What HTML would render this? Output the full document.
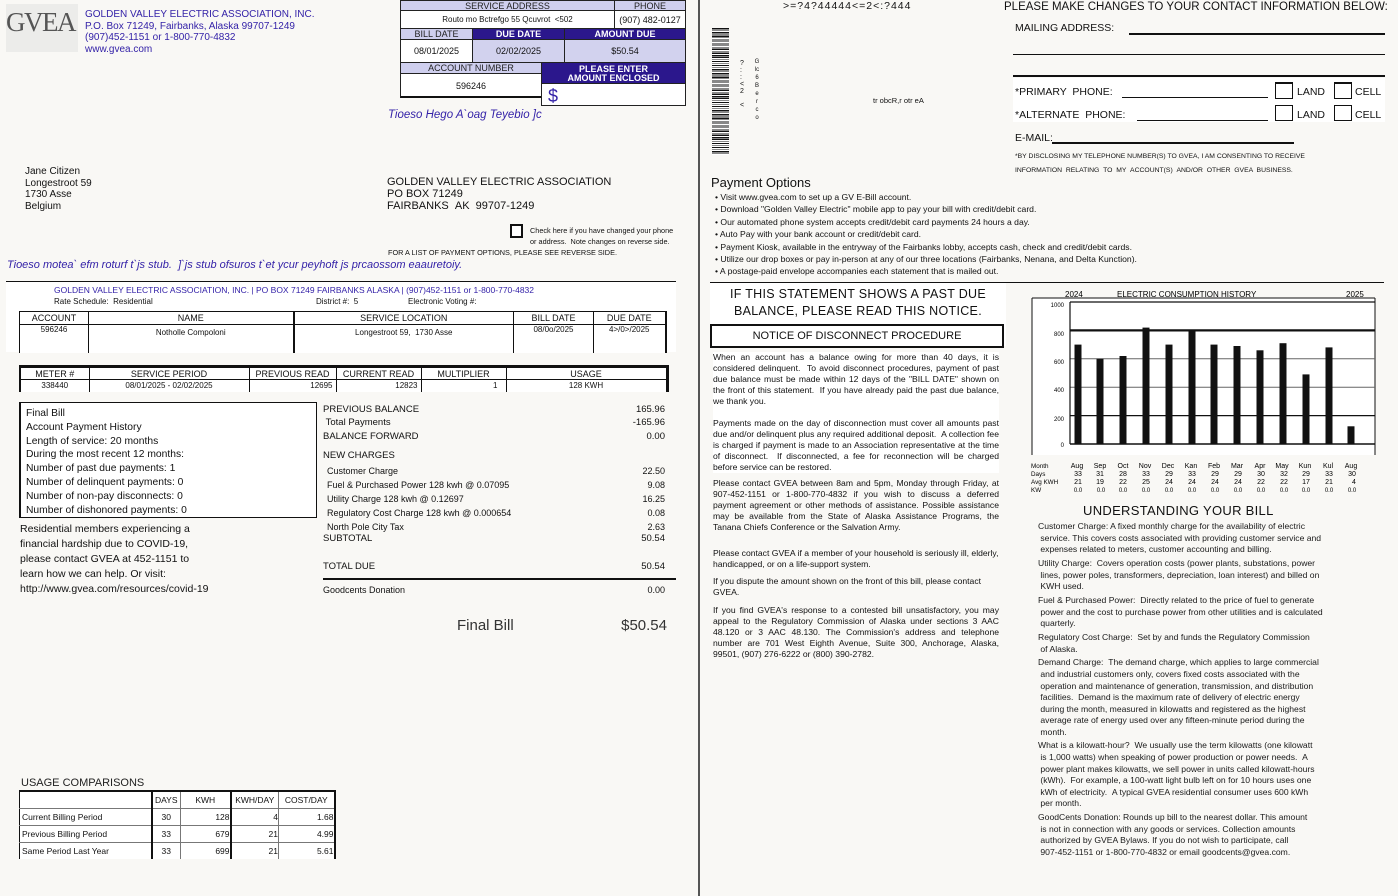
<!DOCTYPE html>
<html><head><meta charset="utf-8"><style>
*{margin:0;padding:0;box-sizing:border-box}
body{width:1398px;height:896px;background:#f9f8f5;position:relative;overflow:hidden;font-family:"Liberation Sans",Arial,sans-serif;color:#111}
.a{position:absolute;white-space:nowrap}
.b{color:#3422a8}
.hd{position:absolute;background:#cfcfee;color:#222;font-size:9px;text-align:center;line-height:11px;border:1px solid #222}
.hp{position:absolute;background:#2b178c;color:#fff;font-size:9px;font-weight:bold;text-align:center;border:1px solid #222}
.cl{position:absolute;background:#fff;border:1px solid #222;font-size:9px;text-align:center}
table{border-collapse:collapse;table-layout:fixed}
.p{font-size:8.6px;line-height:11px;text-align:justify;white-space:normal}
</style></head><body>
<div class="a" style="left:698px;top:0;width:2px;height:896px;background:#555"></div>

<div class="a" style="left:6px;top:4px;width:72px;height:48px;background:#ececea;color:#555;font-family:'Liberation Serif',serif;font-size:27px;line-height:36px;letter-spacing:-1.5px;overflow:hidden">GVEA</div>
<div class="a b" style="left:85px;top:9px;font-size:10px;line-height:11.5px">GOLDEN VALLEY ELECTRIC ASSOCIATION, INC.<br>P.O. Box 71249, Fairbanks, Alaska 99707-1249<br>(907)452-1151 or 1-800-770-4832<br>www.gvea.com</div>

<div class="hd" style="left:400px;top:0;width:215px;height:11px">SERVICE ADDRESS</div>
<div class="hd" style="left:614px;top:0;width:72px;height:11px">PHONE</div>
<div class="cl" style="left:400px;top:10px;width:215px;height:19px;line-height:18px;font-size:8px">Routo mo Bctrefgo 55 Qcuvrot &nbsp;&lt;502</div>
<div class="cl" style="left:614px;top:10px;width:72px;height:19px;line-height:18px">(907) 482-0127</div>
<div class="hd" style="left:400px;top:28px;width:73px;height:12px">BILL DATE</div>
<div class="hp" style="left:472px;top:28px;width:93px;height:12px;line-height:11px">DUE DATE</div>
<div class="hp" style="left:564px;top:28px;width:122px;height:12px;line-height:11px">AMOUNT DUE</div>
<div class="cl" style="left:400px;top:39px;width:73px;height:24px;line-height:23px">08/01/2025</div>
<div class="cl" style="left:472px;top:39px;width:93px;height:24px;line-height:23px;background:#d2d2ee">02/02/2025</div>
<div class="cl" style="left:564px;top:39px;width:122px;height:24px;line-height:23px;background:#d2d2ee">$50.54</div>
<div class="hd" style="left:400px;top:62px;width:142px;height:12px">ACCOUNT NUMBER</div>
<div class="hp" style="left:541px;top:62px;width:145px;height:22px;line-height:9px;padding-top:2px">PLEASE ENTER<br>AMOUNT ENCLOSED</div>
<div class="cl" style="left:400px;top:73px;width:142px;height:25px;line-height:24px;border-bottom:2px solid #111">596246</div>
<div class="cl" style="left:541px;top:83px;width:145px;height:23px;text-align:left;padding-left:6px;font-size:18px;line-height:24px;color:#3422a8">$</div>
<div class="a b" style="left:388px;top:109px;font-size:11.5px;font-style:italic">Tioeso Hego A`oag Teyebio ]c</div>

<div class="a" style="left:25px;top:166px;font-size:10px;line-height:11.7px">Jane Citizen<br>Longestroot 59<br>1730 Asse<br>Belgium</div>
<div class="a" style="left:387px;top:177px;font-size:11px;line-height:11.8px">GOLDEN VALLEY ELECTRIC ASSOCIATION<br>PO BOX 71249<br>FAIRBANKS &nbsp;AK &nbsp;99707-1249</div>
<div class="a" style="left:510px;top:224px;width:13px;height:14px;border:2px solid #111;background:#fff"></div>
<div class="a" style="left:530px;top:226px;font-size:7.3px;line-height:10.5px">Check here if you have changed your phone<br>or address. &nbsp;Note changes on reverse side.</div>
<div class="a" style="left:388px;top:248px;font-size:7.3px">FOR A LIST OF PAYMENT OPTIONS, PLEASE SEE REVERSE SIDE.</div>
<div class="a b" style="left:7px;top:259px;font-size:11px;font-style:italic">Tioeso motea` efm roturf t`js stub. &nbsp;]`js stub ofsuros t`et ycur peyhoft js prcaossom eaauretoiy.</div>

<div class="a" style="left:6px;top:281px;width:670px;height:71px;background:#fff;border-top:1px solid #111"></div>
<div class="a b" style="left:54px;top:285px;font-size:8.5px">GOLDEN VALLEY ELECTRIC ASSOCIATION, INC. | PO BOX 71249 FAIRBANKS ALASKA | (907)452-1151 or 1-800-770-4832</div>
<div class="a" style="left:54px;top:297px;font-size:8px">Rate Schedule: &nbsp;Residential</div>
<div class="a" style="left:316px;top:297px;font-size:8px">District #: &nbsp;5</div>
<div class="a" style="left:408px;top:297px;font-size:8px">Electronic Voting #:</div>
<table class="a" style="left:19px;top:311px;width:646px;font-size:9px;background:#fff">
<colgroup><col style="width:69px"><col style="width:205px"><col style="width:220px"><col style="width:80px"><col style="width:72px"></colgroup>
<tr style="height:13px;text-align:center"><td style="border:1px solid #111">ACCOUNT</td><td style="border:1px solid #111">NAME</td><td style="border:1px solid #111;border-left:2px solid #111">SERVICE LOCATION</td><td style="border:1px solid #111">BILL DATE</td><td style="border:1px solid #111;border-right:2px solid #111">DUE DATE</td></tr>
<tr style="height:28px;text-align:center;vertical-align:top;font-size:8px"><td style="border-left:1px solid #111;border-right:1px solid #111">596246</td><td style="border-right:1px solid #111;padding-top:3px">Notholle Compoloni</td><td style="border-left:2px solid #111;border-right:1px solid #111;padding-top:3px">Longestroot 59, &nbsp;1730 Asse</td><td style="border-right:1px solid #111">08/0o/2025</td><td style="border-right:2px solid #111">4&gt;/0&gt;/2025</td></tr></table>

<table class="a" style="left:19px;top:365px;width:647px;font-size:9px;background:#fff;border-top:3px solid #111">
<colgroup><col style="width:69px"><col style="width:160px"><col style="width:87px"><col style="width:85px"><col style="width:85px"><col style="width:161px"></colgroup>
<tr style="height:13px;text-align:center"><td style="border:1px solid #111;border-left:2px solid #111">METER #</td><td style="border:1px solid #111">SERVICE PERIOD</td><td style="border:1px solid #111">PREVIOUS READ</td><td style="border:1px solid #111">CURRENT READ</td><td style="border:1px solid #111">MULTIPLIER</td><td style="border:1px solid #111;border-right:3px solid #111">USAGE</td></tr>
<tr style="height:12px;font-size:8px"><td style="border-left:2px solid #111;border-right:1px solid #111;text-align:center">338440</td><td style="border-right:1px solid #111;text-align:center">08/01/2025 - 02/02/2025</td><td style="border-right:1px solid #111;text-align:right;padding-right:3px">12695</td><td style="border-right:1px solid #111;text-align:right;padding-right:3px">12823</td><td style="border-right:1px solid #111;text-align:right;padding-right:8px">1</td><td style="border-right:3px solid #111;text-align:center">128 KWH</td></tr></table>

<div class="a" style="left:19px;top:402px;width:298px;height:116px;background:#fff;border:1px solid #111;border-left:2px solid #111;padding:4px 0 0 5px;font-size:10.3px;line-height:13.8px">Final Bill<br>Account Payment History<br>Length of service: 20 months<br>During the most recent 12 months:<br>Number of past due payments: 1<br>Number of delinquent payments: 0<br>Number of non-pay disconnects: 0<br>Number of dishonored payments: 0</div>
<div class="a" style="left:20px;top:522px;font-size:10.5px;line-height:15px">Residential members experiencing a<br>financial hardship due to COVID-19,<br>please contact GVEA at 452-1151 to<br>learn how we can help. Or visit:<br>http://www.gvea.com/resources/covid-19</div>

<div class="a" style="left:323px;top:403px;font-size:9.5px;line-height:13.4px">PREVIOUS BALANCE<br>&nbsp;Total Payments<br>BALANCE FORWARD</div>
<div class="a" style="left:323px;top:450px;font-size:9.5px">NEW CHARGES</div>
<div class="a" style="left:327px;top:465px;font-size:9px;line-height:13.9px">Customer Charge<br>Fuel &amp; Purchased Power 128 kwh @ 0.07095<br>Utility Charge 128 kwh @ 0.12697<br>Regulatory Cost Charge 128 kwh @ 0.000654<br>North Pole City Tax</div>
<div class="a" style="left:323px;top:533px;font-size:9.5px">SUBTOTAL</div>
<div class="a" style="left:323px;top:561px;font-size:9.5px">TOTAL DUE</div>
<div class="a" style="left:323px;top:578px;width:353px;height:2px;background:#111"></div>
<div class="a" style="left:323px;top:585px;font-size:9px">Goodcents Donation</div>
<div class="a" style="left:600px;top:403px;width:65px;text-align:right;font-size:9.5px;line-height:13.4px">165.96<br>-165.96<br>0.00</div>
<div class="a" style="left:600px;top:465px;width:65px;text-align:right;font-size:9px;line-height:13.9px">22.50<br>9.08<br>16.25<br>0.08<br>2.63</div>
<div class="a" style="left:600px;top:533px;width:65px;text-align:right;font-size:9.5px">50.54</div>
<div class="a" style="left:600px;top:561px;width:65px;text-align:right;font-size:9.5px">50.54</div>
<div class="a" style="left:600px;top:585px;width:65px;text-align:right;font-size:9px">0.00</div>
<div class="a" style="left:457px;top:617px;font-size:15px;color:#333">Final Bill</div>
<div class="a" style="left:600px;top:617px;width:67px;text-align:right;font-size:15px;color:#333">$50.54</div>

<div class="a" style="left:21px;top:777px;font-size:11px;color:#222">USAGE COMPARISONS</div>
<table class="a" style="left:19px;top:790px;width:315px;font-size:8.5px;background:#fff;border-top:2px solid #111">
<colgroup><col style="width:132px"><col style="width:29px"><col style="width:50px"><col style="width:48px"><col style="width:56px"></colgroup>
<tr style="height:17px"><td style="border-left:1px solid #111;border-bottom:1px solid #777"></td><td style="border-left:2px solid #111;border-bottom:1px solid #777;text-align:center">DAYS</td><td style="border-left:1px solid #777;border-bottom:1px solid #777;text-align:center">KWH</td><td style="border-left:2px solid #111;border-bottom:1px solid #777;text-align:center">KWH/DAY</td><td style="border-left:1px solid #777;border-right:2px solid #111;border-bottom:1px solid #777;text-align:center">COST/DAY</td></tr>
<tr style="height:17px"><td style="border-left:1px solid #111;border-bottom:1px solid #777;padding-left:2px">Current Billing Period</td><td style="border-left:2px solid #111;border-bottom:1px solid #777;text-align:center">30</td><td style="border-left:1px solid #777;border-bottom:1px solid #777;text-align:right">128</td><td style="border-left:2px solid #111;border-bottom:1px solid #777;text-align:right">4</td><td style="border-left:1px solid #777;border-right:2px solid #111;border-bottom:1px solid #777;text-align:right">1.68</td></tr>
<tr style="height:17px"><td style="border-left:1px solid #111;border-bottom:1px solid #777;padding-left:2px">Previous Billing Period</td><td style="border-left:2px solid #111;border-bottom:1px solid #777;text-align:center">33</td><td style="border-left:1px solid #777;border-bottom:1px solid #777;text-align:right">679</td><td style="border-left:2px solid #111;border-bottom:1px solid #777;text-align:right">21</td><td style="border-left:1px solid #777;border-right:2px solid #111;border-bottom:1px solid #777;text-align:right">4.99</td></tr>
<tr style="height:17px"><td style="border-left:1px solid #111;padding-left:2px">Same Period Last Year</td><td style="border-left:2px solid #111;text-align:center">33</td><td style="border-left:1px solid #777;text-align:right">699</td><td style="border-left:2px solid #111;text-align:right">21</td><td style="border-left:1px solid #777;border-right:2px solid #111;text-align:right">5.61</td></tr></table>

<div class="a" style="left:783px;top:0;font-size:10.5px;letter-spacing:1px">&gt;=?4?44444&lt;=2&lt;:?444</div>
<div class="a" style="left:712px;top:28px;width:17px;height:127px;background:repeating-linear-gradient(#111 0 1.3px,#fff 1.3px 2.6px,#111 2.6px 3.2px,#fff 3.2px 4.1px)"></div>
<div class="a" style="left:740px;top:60px;font-size:7px;line-height:7px;width:8px">?<br>:<br>:<br>&lt;<br>2<br><br>&lt;</div>
<div class="a" style="left:753px;top:58px;font-size:6px;line-height:8px;width:8px;text-align:center">G<br>lc<br>6<br>B<br>e<br>r<br>c<br>o</div>
<div class="a" style="left:873px;top:96px;font-size:7.5px">tr obcR,r otr eA</div>

<div class="a" style="left:1004px;top:1px;font-size:11.5px">PLEASE MAKE CHANGES TO YOUR CONTACT INFORMATION BELOW:</div>
<div class="a" style="left:1015px;top:22px;font-size:10.5px">MAILING ADDRESS:</div>
<div class="a" style="left:1129px;top:33px;width:256px;height:2px;background:#111"></div>
<div class="a" style="left:1013px;top:54px;width:372px;height:1px;background:#111"></div>
<div class="a" style="left:1013px;top:75px;width:372px;height:2px;background:#111"></div>
<div class="a" style="left:1013px;top:78px;width:372px;height:44px;background:#fff"></div>
<div class="a" style="left:1015px;top:86px;font-size:10.5px">*PRIMARY &nbsp;PHONE:</div>
<div class="a" style="left:1122px;top:97px;width:146px;height:1px;background:#111"></div>
<div class="a" style="left:1015px;top:109px;font-size:10.5px">*ALTERNATE &nbsp;PHONE:</div>
<div class="a" style="left:1137px;top:120px;width:131px;height:1px;background:#111"></div>
<div class="a" style="left:1275px;top:82px;width:18px;height:17px;border:1px solid #111;border-top-width:2px"></div>
<div class="a" style="left:1297px;top:86px;font-size:10.5px">LAND</div>
<div class="a" style="left:1334px;top:82px;width:18px;height:17px;border:1px solid #111;border-top-width:2px"></div>
<div class="a" style="left:1355px;top:86px;font-size:10.5px">CELL</div>
<div class="a" style="left:1275px;top:105px;width:18px;height:16px;border:1px solid #111"></div>
<div class="a" style="left:1297px;top:109px;font-size:10.5px">LAND</div>
<div class="a" style="left:1334px;top:105px;width:18px;height:16px;border:1px solid #111"></div>
<div class="a" style="left:1355px;top:109px;font-size:10.5px">CELL</div>
<div class="a" style="left:1015px;top:132px;font-size:10.5px">E-MAIL:</div>
<div class="a" style="left:1052px;top:142px;width:242px;height:2px;background:#111"></div>
<div class="a" style="left:1015px;top:150px;font-size:6.8px;line-height:13.5px">*BY DISCLOSING MY TELEPHONE NUMBER(S) TO GVEA, I AM CONSENTING TO RECEIVE<br>INFORMATION &nbsp;RELATING &nbsp;TO &nbsp;MY &nbsp;ACCOUNT(S) &nbsp;AND/OR &nbsp;OTHER &nbsp;GVEA &nbsp;BUSINESS.</div>

<div class="a" style="left:711px;top:175px;font-size:13px">Payment Options</div>
<div class="a" style="left:715px;top:191px;font-size:8.6px;line-height:12.4px">• Visit www.gvea.com to set up a GV E-Bill account.<br>• Download "Golden Valley Electric" mobile app to pay your bill with credit/debit card.<br>• Our automated phone system accepts credit/debit card payments 24 hours a day.<br>• Auto Pay with your bank account or credit/debit card.<br>• Payment Kiosk, available in the entryway of the Fairbanks lobby, accepts cash, check and credit/debit cards.<br>• Utilize our drop boxes or pay in-person at any of our three locations (Fairbanks, Nenana, and Delta Kunction).<br>• A postage-paid envelope accompanies each statement that is mailed out.</div>
<div class="a" style="left:710px;top:282px;width:674px;height:1px;background:#111"></div>

<div class="a" style="left:710px;top:283px;width:296px;height:63px;background:#fff"></div>
<div class="a" style="left:710px;top:286px;width:296px;text-align:center;font-size:12.5px;line-height:17px;letter-spacing:.3px">IF THIS STATEMENT SHOWS A PAST DUE<br>BALANCE, PLEASE READ THIS NOTICE.</div>
<div class="a" style="left:710px;top:324px;width:294px;height:24px;border:2px solid #111;text-align:center;font-size:11px;line-height:20px">NOTICE OF DISCONNECT PROCEDURE</div>
<div class="a p" style="left:713px;top:352px;width:286px;background:#fff">When an account has a balance owing for more than 40 days, it is considered delinquent. &nbsp;To avoid disconnect procedures, payment of past due balance must be made within 12 days of the "BILL DATE" shown on the front of this statement. &nbsp;If you have already paid the past due balance, we thank you.<br><br>Payments made on the day of disconnection must cover all amounts past due and/or delinquent plus any required additional deposit. &nbsp;A collection fee is charged if payment is made to an Association representative at the time of disconnect. &nbsp;If disconnected, a fee for reconnection will be charged before service can be restored.</div>
<div class="a p" style="left:713px;top:478px;width:286px">Please contact GVEA between 8am and 5pm, Monday through Friday, at 907-452-1151 or 1-800-770-4832 if you wish to discuss a deferred payment agreement or other methods of assistance. Possible assistance may be available from the State of Alaska Assistance Programs, the Tanana Chiefs Conference or the Salvation Army.</div>
<div class="a p" style="left:713px;top:548px;width:286px;text-align:left">Please contact GVEA if a member of your household is seriously ill, elderly, handicapped, or on a life-support system.</div>
<div class="a p" style="left:713px;top:576px;width:286px;text-align:left">If you dispute the amount shown on the front of this bill, please contact GVEA.</div>
<div class="a p" style="left:713px;top:605px;width:286px">If you find GVEA's response to a contested bill unsatisfactory, you may appeal to the Regulatory Commission of Alaska under sections 3 AAC 48.120 or 3 AAC 48.130. The Commission's address and telephone number are 701 West Eighth Avenue, Suite 300, Anchorage, Alaska, 99501, (907) 276-6222 or (800) 390-2782.</div>

<svg class="a" style="left:1020px;top:285px" width="378" height="215" font-family="Liberation Sans,sans-serif">
<rect x="12" y="13" width="343" height="157" fill="#fff"/>
<line x1="12" y1="13" x2="12" y2="170" stroke="#111"/>
<line x1="355" y1="13" x2="355" y2="170" stroke="#111"/>
<line x1="12" y1="13" x2="355" y2="13" stroke="#111"/>
<text x="45" y="12" font-size="8">2024</text>
<text x="97" y="12" font-size="8">ELECTRIC CONSUMPTION HISTORY</text>
<text x="326" y="12" font-size="8">2025</text>
<g stroke="#111">
<line x1="50" y1="17" x2="355" y2="17" stroke-width="1.3"/>
<line x1="50" y1="45.4" x2="355" y2="45.4" stroke-width="2.2"/>
<line x1="50" y1="73.8" x2="355" y2="73.8" stroke="#666"/>
<line x1="50" y1="102.2" x2="355" y2="102.2" stroke="#666"/>
<line x1="50" y1="130.6" x2="355" y2="130.6" stroke-width="1.2"/>
<line x1="50" y1="159" x2="355" y2="159" stroke-width="1.5"/>
<line x1="50" y1="17" x2="50" y2="159" stroke-width="1.2"/>
</g>
<g font-size="6" text-anchor="end">
<text x="44" y="22">1000</text><text x="44" y="51">800</text><text x="44" y="79">600</text><text x="44" y="107">400</text><text x="44" y="136">200</text><text x="44" y="162">0</text></g>
<g fill="#111">
<rect x="54.5" y="59.6" width="7" height="99.4"/>
<rect x="76.5" y="73.8" width="7" height="85.2"/>
<rect x="99.5" y="71" width="7" height="88"/>
<rect x="122.5" y="42.6" width="7" height="116.4"/>
<rect x="145.5" y="59.6" width="7" height="99.4"/>
<rect x="168.5" y="45.4" width="7" height="113.6"/>
<rect x="190.5" y="59.6" width="7" height="99.4"/>
<rect x="213.5" y="61" width="7" height="98"/>
<rect x="236.5" y="65.3" width="7" height="93.7"/>
<rect x="259.5" y="58.2" width="7" height="100.8"/>
<rect x="282.5" y="89.4" width="7" height="69.6"/>
<rect x="305.5" y="62.4" width="7" height="96.6"/>
<rect x="327.5" y="141.3" width="7" height="17.7"/>
</g>
<g font-size="6.3">
<text x="11" y="183">Month</text><text x="11" y="191">Days</text><text x="11" y="199">Avg KWH</text><text x="11" y="207">KW</text>
</g>
<g font-size="7" text-anchor="middle">
<text y="183"><tspan x="57">Aug</tspan><tspan x="80">Sep</tspan><tspan x="103">Oct</tspan><tspan x="125">Nov</tspan><tspan x="148">Dec</tspan><tspan x="171">Kan</tspan><tspan x="194">Feb</tspan><tspan x="217">Mar</tspan><tspan x="240">Apr</tspan><tspan x="262">May</tspan><tspan x="285">Kun</tspan><tspan x="308">Kul</tspan><tspan x="331">Aug</tspan></text>
<text y="191"><tspan x="58">33</tspan><tspan x="80">31</tspan><tspan x="103">28</tspan><tspan x="126">33</tspan><tspan x="149">29</tspan><tspan x="172">33</tspan><tspan x="195">29</tspan><tspan x="218">29</tspan><tspan x="241">30</tspan><tspan x="264">32</tspan><tspan x="286">29</tspan><tspan x="309">33</tspan><tspan x="332">30</tspan></text>
<text y="199"><tspan x="58">21</tspan><tspan x="80">19</tspan><tspan x="103">22</tspan><tspan x="126">25</tspan><tspan x="149">24</tspan><tspan x="172">24</tspan><tspan x="195">24</tspan><tspan x="218">24</tspan><tspan x="241">22</tspan><tspan x="264">22</tspan><tspan x="286">17</tspan><tspan x="309">21</tspan><tspan x="334">4</tspan></text>
<text y="207" font-size="6"><tspan x="58">0.0</tspan><tspan x="81">0.0</tspan><tspan x="103">0.0</tspan><tspan x="126">0.0</tspan><tspan x="149">0.0</tspan><tspan x="172">0.0</tspan><tspan x="195">0.0</tspan><tspan x="218">0.0</tspan><tspan x="241">0.0</tspan><tspan x="264">0.0</tspan><tspan x="286">0.0</tspan><tspan x="309">0.0</tspan><tspan x="332">0.0</tspan></text>
</g>
</svg>

<div class="a" style="left:1083px;top:503px;font-size:13px;letter-spacing:.3px">UNDERSTANDING YOUR BILL</div>
<div class="a" style="left:1038px;top:521px;font-size:8.6px;line-height:11.5px;color:#1a1a1a">Customer Charge: A fixed monthly charge for the availability of electric<br>&nbsp;service. This covers costs associated with providing customer service and<br>&nbsp;expenses related to meters, customer accounting and billing.<br><span style="line-height:14px">Utility Charge: &nbsp;Covers operation costs (power plants, substations, power</span><br>&nbsp;lines, power poles, transformers, depreciation, loan interest) and billed on<br>&nbsp;KWH used.<br><span style="line-height:14px">Fuel &amp; Purchased Power: &nbsp;Directly related to the price of fuel to generate</span><br>&nbsp;power and the cost to purchase power from other utilities and is calculated<br>&nbsp;quarterly.<br><span style="line-height:14px">Regulatory Cost Charge: &nbsp;Set by and funds the Regulatory Commission</span><br>&nbsp;of Alaska.<br><span style="line-height:14px">Demand Charge: &nbsp;The demand charge, which applies to large commercial</span><br>&nbsp;and industrial customers only, covers fixed costs associated with the<br>&nbsp;operation and maintenance of generation, transmission, and distribution<br>&nbsp;facilities. &nbsp;Demand is the maximum rate of delivery of electric energy<br>&nbsp;during the month, measured in kilowatts and registered as the highest<br>&nbsp;average rate of energy used over any fifteen-minute period during the<br>&nbsp;month.<br><span style="line-height:14px">What is a kilowatt-hour? &nbsp;We usually use the term kilowatts (one kilowatt</span><br>&nbsp;is 1,000 watts) when speaking of power production or power needs. &nbsp;A<br>&nbsp;power plant makes kilowatts, we sell power in units called kilowatt-hours<br>&nbsp;(kWh). &nbsp;For example, a 100-watt light bulb left on for 10 hours uses one<br>&nbsp;kWh of electricity. &nbsp;A typical GVEA residential consumer uses 600 kWh<br>&nbsp;per month.<br><span style="line-height:14px">GoodCents Donation: Rounds up bill to the nearest dollar. This amount</span><br>&nbsp;is not in connection with any goods or services. Collection amounts<br>&nbsp;authorized by GVEA Bylaws. If you do not wish to participate, call<br>&nbsp;907-452-1151 or 1-800-770-4832 or email goodcents@gvea.com.</div>
</body></html>
